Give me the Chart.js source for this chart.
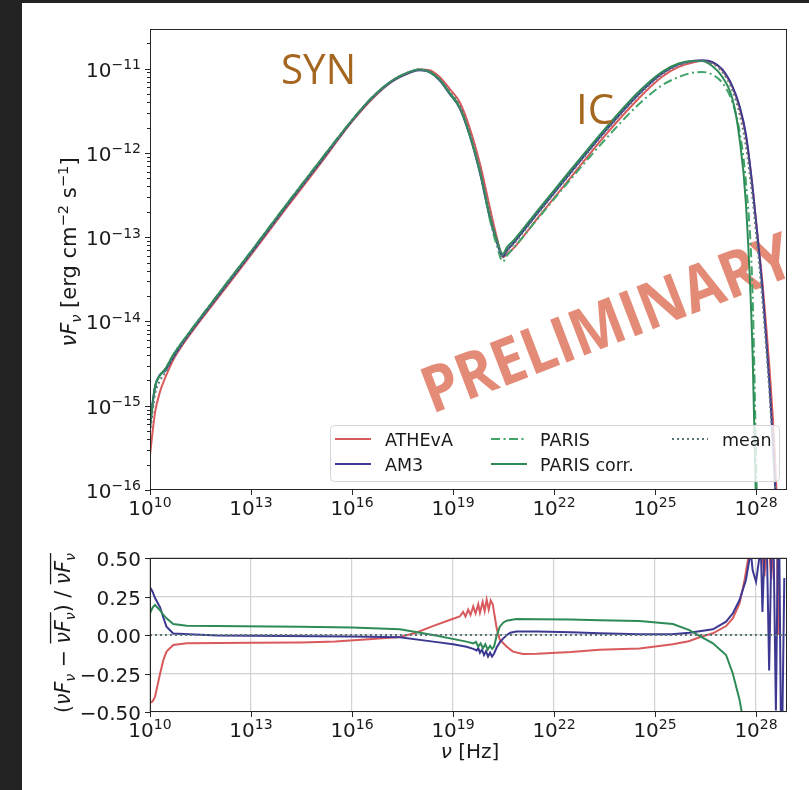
<!DOCTYPE html>
<html>
<head>
<meta charset="utf-8">
<script src="https://cdn.jsdelivr.net/npm/chart.js@4.4.1/dist/chart.umd.min.js"></script>
<style>
   html, body { margin: 0; padding: 0; background: #fff; }
   body { width: 809px; height: 790px; position: relative; overflow: hidden; }
   canvas { position: absolute; left: 0; }
   #sedChart { top: 0; }
   #resChart { top: 530px; }
   .edge { position: absolute; background: #232323; }
</style>
</head>
<body>
<canvas id="sedChart" width="809" height="530"></canvas>
<canvas id="resChart" width="809" height="260"></canvas>
<div class="edge" style="left:0;top:0;width:22px;height:790px"></div>
<div class="edge" style="left:0;top:0;width:809px;height:3px"></div>
<script>
// frequency grid of the SED curves, log10(nu / Hz)
const logNu = [10.0, 10.15, 10.3, 10.45, 10.7, 11.0, 12.0, 13.0, 14.0, 15.0, 16.0, 16.6, 17.2, 17.7, 18.0, 18.3, 18.6, 18.9, 19.2, 19.5, 19.8, 20.1, 20.3, 20.48, 20.6, 20.8, 21.5, 22.5, 23.5, 24.5, 25.2, 25.7, 26.1, 26.4, 26.7, 27.0, 27.3, 27.5, 27.7, 27.9, 28.0, 28.1, 28.2, 28.3, 28.4, 28.5, 28.58, 28.66];

// log10(nuFnu / erg cm^-2 s^-1) for each code
const sedAthevA = [-15.58, -15.08, -14.83, -14.67, -14.45, -14.26, -13.73, -13.21, -12.68, -12.16, -11.63, -11.36, -11.15, -11.05, -11.01, -11.02, -11.10, -11.24, -11.40, -11.71, -12.13, -12.66, -13.00, -13.24, -13.20, -13.13, -12.78, -12.29, -11.80, -11.36, -11.10, -10.98, -10.93, -10.91, -10.93, -11.02, -11.22, -11.45, -11.80, -12.42, -12.80, -13.18, -13.58, -14.05, -14.55, -15.15, -15.75, -16.6];
const sedAM3 = [-15.20, -14.77, -14.63, -14.585, -14.42, -14.24, -13.71, -13.19, -12.66, -12.14, -11.62, -11.35, -11.15, -11.05, -11.02, -11.04, -11.14, -11.30, -11.47, -11.80, -12.24, -12.78, -13.06, -13.23, -13.16, -13.07, -12.72, -12.23, -11.75, -11.31, -11.06, -10.95, -10.91, -10.90, -10.92, -11.01, -11.21, -11.43, -11.78, -12.42, -12.82, -13.22, -13.66, -14.20, -14.75, -15.42, -16.05, -16.8];
const sedParis = [-15.26, -14.78, -14.64, -14.565, -14.39, -14.22, -13.69, -13.17, -12.64, -12.12, -11.61, -11.34, -11.14, -11.04, -11.01, -11.04, -11.13, -11.29, -11.46, -11.79, -12.22, -12.80, -13.10, -13.29, -13.22, -13.13, -12.79, -12.31, -11.85, -11.43, -11.20, -11.10, -11.05, -11.04, -11.07, -11.17, -11.40, -11.72, -12.35, -13.70, -15.60, -17.5, null, null, null, null, null, null];
const sedParisCorr = [-15.26, -14.78, -14.64, -14.565, -14.39, -14.22, -13.69, -13.17, -12.64, -12.12, -11.61, -11.34, -11.14, -11.04, -11.01, -11.04, -11.13, -11.29, -11.46, -11.79, -12.22, -12.76, -13.03, -13.20, -13.12, -13.04, -12.69, -12.20, -11.72, -11.28, -11.04, -10.94, -10.91, -10.91, -10.97, -11.10, -11.36, -11.80, -12.60, -14.40, -16.20, null, null, null, null, null, null, null];
const sedMean = [-15.32, -14.86, -14.70, -14.61, -14.42, -14.24, -13.71, -13.19, -12.66, -12.14, -11.62, -11.35, -11.14, -11.04, -11.01, -11.03, -11.12, -11.27, -11.44, -11.76, -12.19, -12.72, -13.03, -13.22, -13.16, -13.08, -12.73, -12.24, -11.76, -11.32, -11.07, -10.96, -10.92, -10.91, -10.94, -11.04, -11.26, -11.52, -11.92, -12.55, -12.95, -13.35, -13.80, -14.30, -14.85, -15.50, -16.10, -16.9];

// relative deviation from the mean, each on its own log10(nu) grid
const resNuAthevA = [10.0, 10.08, 10.15, 10.3, 10.4, 10.49, 10.69, 11.09, 13.0, 14.5, 15.5, 16.5, 17.42, 17.9, 18.4, 18.9, 19.2, 19.3, 19.37, 19.45, 19.52, 19.6, 19.67, 19.75, 19.8, 19.88, 19.94, 20.0, 20.06, 20.12, 20.18, 20.24, 20.3, 20.39, 20.48, 20.59, 20.78, 21.08, 21.5, 22.5, 23.35, 24.54, 25.53, 26.0, 26.32, 26.72, 27.11, 27.31, 27.51, 27.66, 27.76, 27.85, 28.1, 28.25, 28.35, 28.45, 28.55, 28.62, 28.65, 28.67];
const resAthevA = [-0.44, -0.43, -0.40, -0.25, -0.16, -0.108, -0.065, -0.054, -0.05, -0.048, -0.042, -0.028, -0.013, 0.015, 0.058, 0.097, 0.12, 0.15, 0.12, 0.165, 0.13, 0.185, 0.14, 0.2, 0.145, 0.215, 0.155, 0.23, 0.165, 0.225, 0.2, 0.12, 0.04, -0.03, -0.05, -0.075, -0.108, -0.123, -0.122, -0.11, -0.095, -0.087, -0.06, -0.04, -0.015, 0.011, 0.058, 0.108, 0.205, 0.357, 0.487, 0.65, 0.7, 0.38, 0.7, 0.36, 0.7, 0.7, 0.0, 0.7];
const resNuAM3 = [10.0, 10.08, 10.15, 10.3, 10.4, 10.49, 10.69, 12.0, 14.0, 16.0, 17.42, 18.41, 19.0, 19.4, 19.6, 19.7, 19.75, 19.8, 19.86, 19.92, 19.98, 20.04, 20.1, 20.16, 20.22, 20.3, 20.4, 20.48, 20.6, 20.7, 20.88, 21.5, 22.5, 23.35, 24.54, 25.5, 26.02, 26.72, 27.11, 27.31, 27.51, 27.7, 27.8, 27.85, 27.9, 28.0, 28.09, 28.14, 28.19, 28.26, 28.32, 28.39, 28.46, 28.52, 28.59, 28.65, 28.69, 28.74, 28.78, 28.84];
const resAM3 = [0.31, 0.28, 0.24, 0.18, 0.11, 0.054, 0.01, -0.004, -0.006, -0.01, -0.015, -0.043, -0.06, -0.076, -0.09, -0.1, -0.085, -0.115, -0.095, -0.13, -0.105, -0.14, -0.115, -0.14, -0.12, -0.08, -0.045, -0.025, 0.0, 0.015, 0.022, 0.022, 0.018, 0.012, 0.005, 0.005, 0.015, 0.037, 0.087, 0.14, 0.227, 0.357, 0.487, 0.53, 0.42, 0.346, 0.49, 0.6, 0.15, 0.6, 0.6, -0.23, 0.6, 0.6, -0.49, 0.6, 0.6, -0.6, -0.6, 0.37];
const resNuParisCorr = [10.0, 10.08, 10.15, 10.3, 10.4, 10.49, 10.69, 11.09, 14.45, 16.0, 17.42, 18.41, 19.4, 19.6, 19.68, 19.75, 19.82, 19.89, 19.96, 20.03, 20.1, 20.16, 20.22, 20.29, 20.39, 20.49, 20.59, 20.88, 21.5, 22.5, 23.35, 24.54, 25.53, 26.02, 26.32, 26.72, 27.11, 27.31, 27.51, 27.6, 27.7];
const resParisCorr = [0.14, 0.18, 0.195, 0.16, 0.13, 0.108, 0.071, 0.06, 0.054, 0.048, 0.037, 0.0, -0.043, -0.055, -0.045, -0.075, -0.055, -0.085, -0.06, -0.095, -0.07, -0.09, -0.075, -0.01, 0.054, 0.08, 0.093, 0.104, 0.103, 0.1, 0.095, 0.091, 0.071, 0.032, -0.006, -0.054, -0.13, -0.25, -0.42, -0.53, -0.8];
const resNuMean = [10.0, 28.9];
const resMean = [0, 0];

// axis ticks
const nuTicks = [10, 13, 16, 19, 22, 25, 28];
const fluxTicks = [-16, -15, -14, -13, -12, -11];
const resTicks = [-0.5, -0.25, 0, 0.25, 0.5];
const resTickLabels = ['\u22120.50', '\u22120.25', '0.00', '0.25', '0.50'];

const NU_MIN = 1e10, NU_MAX = 10 ** 28.92;
const FONT = '"DejaVu Sans"';
const COLORS = {
   athevA: '#d95a5c',
   am3: '#3d3993',
   paris: '#41a468',
   parisCorr: '#2e8b57',
   mean: '#587878',
};

const toLogPoints = (xs, ys) => xs.map((x, i) => ({ x: 10 ** x, y: ys[i] === null ? null : 10 ** ys[i] }));
const toPoints = (xs, ys) => xs.map((x, i) => ({ x: 10 ** x, y: ys[i] }));

// text with sub/superscripts, drawn run by run
const runFont = (r, size) => `${r.it ? 'italic ' : ''}${(size * (r.s || 1)).toFixed(1)}px ${FONT}`;
const runsWidth = (ctx, runs, size) => {
   let w = 0;
   for (let r of runs) { ctx.font = runFont(r, size); w += ctx.measureText(r.t).width; }
   return w;
}
const drawRuns = (ctx, runs, x, y, size, align) => {
   const w = runsWidth(ctx, runs, size);
   let cx = align == 'center' ? x - w / 2 : align == 'right' ? x - w : x;
   ctx.textAlign = 'left';
   ctx.textBaseline = 'alphabetic';
   for (let r of runs) {
      ctx.font = runFont(r, size);
      const rw = ctx.measureText(r.t).width;
      ctx.fillText(r.t, cx, y + (r.dy || 0) * size);
      if (r.bar) ctx.fillRect(cx, y - size * 0.98, rw, 1.3);
      cx += rw;
   }
}
const powerRuns = (exp) => [{ t: '10' }, { t: String(exp).replace('-', '\u2212'), s: 0.7, dy: -0.38 }];

const nuFnu = (bar) => [{ t: '\u03bd', it: 1, bar }, { t: 'F', it: 1, bar }, { t: '\u03bd', it: 1, s: 0.7, dy: 0.22, bar }];

// frame, outward ticks, tick labels and axis titles in matplotlib style
const axisDecor = {
   id: 'axisDecor',
   afterDraw(chart, args, opts) {
      const { ctx, chartArea: a, scales: { x, y } } = chart;
      ctx.save();
      ctx.strokeStyle = '#262626';
      ctx.fillStyle = '#1a1a1a';
      ctx.lineWidth = 1;
      ctx.strokeRect(a.left + 0.5, a.top + 0.5, a.right - a.left - 1, a.bottom - a.top - 1);

      ctx.beginPath();
      for (let t of nuTicks) {
         const px = Math.round(x.getPixelForValue(10 ** t)) + 0.5;
         ctx.moveTo(px, a.bottom); ctx.lineTo(px, a.bottom + 5);
      }
      for (let v of opts.yTicks) {
         const py = Math.round(y.getPixelForValue(v)) + 0.5;
         ctx.moveTo(a.left - 5, py); ctx.lineTo(a.left, py);
      }
      for (let v of (opts.yMinor || [])) {
         const py = Math.round(y.getPixelForValue(v)) + 0.5;
         ctx.moveTo(a.left - 3, py); ctx.lineTo(a.left, py);
      }
      ctx.stroke();

      for (let t of nuTicks) {
         drawRuns(ctx, powerRuns(t), x.getPixelForValue(10 ** t), a.bottom + 25, 20, 'center');
      }
      opts.yTicks.forEach((v, i) => {
         drawRuns(ctx, opts.yLabel(v, i), a.left - 9, y.getPixelForValue(v) + 8, 20, 'right');
      });

      for (let title of opts.titles) {
         ctx.save();
         ctx.translate(title.x, title.y);
         if (title.vertical) ctx.rotate(-Math.PI / 2);
         drawRuns(ctx, title.runs, 0, 0, title.size, 'center');
         ctx.restore();
      }
      ctx.restore();
   }
};

// lettering inside the SED panel
const stretchText = (ctx, text, font, x, y, width, angle) => {
   ctx.font = font;
   const w = ctx.measureText(text).width;
   ctx.save();
   ctx.translate(x, y);
   if (angle) ctx.rotate(angle);
   ctx.scale(width / w, 1);
   ctx.textAlign = 'left';
   ctx.textBaseline = 'alphabetic';
   ctx.fillText(text, 0, 0);
   ctx.restore();
}

const sedLabels = {
   id: 'sedLabels',
   beforeDatasetsDraw(chart) {
      const ctx = chart.ctx;
      ctx.save();
      ctx.fillStyle = '#e48b78';
      stretchText(ctx, 'PRELIMINARY', 'bold 64px "Open Sans"', 432, 414, 392, -21 * Math.PI / 180);
      ctx.restore();
   },
   afterDatasetsDraw(chart) {
      const ctx = chart.ctx;
      ctx.save();
      ctx.fillStyle = '#a5671f';
      stretchText(ctx, 'SYN', '42px "Open Sans"', 281, 84, 75);
      stretchText(ctx, 'IC', '42px "Open Sans"', 576, 124, 38);
      ctx.restore();
   }
};

// three-column legend box in the lower right of the SED panel
const sedLegend = {
   id: 'sedLegend',
   afterDatasetsDraw(chart) {
      const ctx = chart.ctx;
      const ds = chart.data.datasets;
      const slots = [
         { i: 0, hx: 335, tx: 385, y: 439 },
         { i: 1, hx: 335, tx: 385, y: 464 },
         { i: 2, hx: 491, tx: 540, y: 439 },
         { i: 3, hx: 491, tx: 540, y: 464 },
         { i: 4, hx: 672, tx: 722, y: 439 },
      ];
      ctx.save();
      ctx.beginPath();
      ctx.roundRect(330.5, 425.5, 449, 56, 4);
      ctx.fillStyle = 'rgba(255,255,255,0.8)';
      ctx.fill();
      ctx.strokeStyle = '#d6d6d6';
      ctx.lineWidth = 1;
      ctx.stroke();
      for (let s of slots) {
         const d = ds[s.i];
         ctx.beginPath();
         ctx.setLineDash(d.borderDash || []);
         ctx.strokeStyle = d.borderColor;
         ctx.lineWidth = d.borderWidth;
         ctx.moveTo(s.hx, s.y); ctx.lineTo(s.hx + 36, s.y);
         ctx.stroke();
         ctx.setLineDash([]);
         ctx.fillStyle = '#1a1a1a';
         ctx.font = `17.5px ${FONT}`;
         ctx.textAlign = 'left';
         ctx.textBaseline = 'alphabetic';
         ctx.fillText(d.label, s.tx, s.y + 6.5);
      }
      ctx.restore();
   }
};

const nuAxis = (height, grid) => ({
   type: 'logarithmic',
   min: NU_MIN,
   max: NU_MAX,
   afterBuildTicks: (s) => { s.ticks = nuTicks.map(t => ({ value: 10 ** t })); },
   afterFit: (s) => { s.height = height; },
   ticks: { display: false },
   border: { display: false },
   grid: grid ? { display: true, drawTicks: false, color: '#d2d2d2', lineWidth: 1.2 } : { display: false },
});

const line = (label, data, color, order, extra) => Object.assign({
   label: label,
   data: data,
   borderColor: color,
   borderWidth: 2,
   pointRadius: 0,
   fill: false,
   order: order,
}, extra || {});

const fluxMinor = [];
for (let e = -17; e <= -11; ++e) {
   for (let k = 2; k <= 9; ++k) {
      const v = k * 10 ** e;
      if (v > 1e-16 && v < 10 ** -10.53) fluxMinor.push(v);
   }
}

const createSedChart = () => {
   const smooth = { cubicInterpolationMode: 'monotone' };
   const datasets = [
      line('ATHEvA', toLogPoints(logNu, sedAthevA), COLORS.athevA, 4, smooth),
      line('AM3', toLogPoints(logNu, sedAM3), COLORS.am3, 3, smooth),
      line('PARIS', toLogPoints(logNu, sedParis), COLORS.paris, 2, Object.assign({ borderDash: [9, 3.5, 2, 3.5] }, smooth)),
      line('PARIS corr.', toLogPoints(logNu, sedParisCorr), COLORS.parisCorr, 1, smooth),
      line('mean', toLogPoints(logNu, sedMean), COLORS.mean, 0, Object.assign({ borderDash: [2, 3] }, smooth)),
   ];
   return new Chart(document.getElementById('sedChart').getContext('2d'), {
      type: 'line',
      data: { datasets: datasets },
      plugins: [sedLabels, sedLegend, axisDecor],
      options: {
         responsive: false,
         animation: false,
         parsing: false,
         layout: { padding: { top: 29, right: 22, left: 0, bottom: 0 } },
         scales: {
            x: nuAxis(40, false),
            y: {
               type: 'logarithmic',
               min: 1e-16,
               max: 10 ** -10.53,
               afterBuildTicks: (s) => { s.ticks = fluxTicks.map(t => ({ value: 10 ** t })); },
               afterFit: (s) => { s.width = 150; },
               ticks: { display: false },
               border: { display: false },
               grid: { display: false },
            },
         },
         plugins: {
            legend: { display: false },
            tooltip: { enabled: false },
            axisDecor: {
               yTicks: fluxTicks.map(t => 10 ** t),
               yMinor: fluxMinor,
               yLabel: (v, i) => powerRuns(fluxTicks[i]),
               titles: [{
                  vertical: true, x: 76, y: 252, size: 21,
                  runs: nuFnu(false).concat([{ t: ' [erg cm' }, { t: '\u22122', s: 0.7, dy: -0.38 }, { t: ' s' }, { t: '\u22121', s: 0.7, dy: -0.38 }, { t: ']' }]),
               }],
            },
         },
      },
   });
}

const createResidualChart = () => {
   const datasets = [
      line('ATHEvA', toPoints(resNuAthevA, resAthevA), COLORS.athevA, 3),
      line('AM3', toPoints(resNuAM3, resAM3), COLORS.am3, 2),
      line('PARIS corr.', toPoints(resNuParisCorr, resParisCorr), COLORS.parisCorr, 1),
      line('mean', toPoints(resNuMean, resMean), COLORS.mean, 0, { borderDash: [2, 3] }),
   ];
   return new Chart(document.getElementById('resChart').getContext('2d'), {
      type: 'line',
      data: { datasets: datasets },
      plugins: [axisDecor],
      options: {
         responsive: false,
         animation: false,
         parsing: false,
         layout: { padding: { top: 28, right: 22, left: 0, bottom: 0 } },
         scales: {
            x: nuAxis(78, true),
            y: {
               type: 'linear',
               min: -0.5,
               max: 0.5,
               afterBuildTicks: (s) => { s.ticks = resTicks.map(v => ({ value: v })); },
               afterFit: (s) => { s.width = 150; },
               ticks: { display: false },
               border: { display: false },
               grid: { display: true, drawTicks: false, color: '#d2d2d2', lineWidth: 1.2 },
            },
         },
         plugins: {
            legend: { display: false },
            tooltip: { enabled: false },
            axisDecor: {
               yTicks: resTicks,
               yLabel: (v, i) => [{ t: resTickLabels[i] }],
               titles: [
                  {
                     vertical: true, x: 70, y: 103, size: 20.5,
                     runs: [{ t: '(' }].concat(nuFnu(false), [{ t: ' \u2212 ' }], nuFnu(true), [{ t: ') / ' }], nuFnu(true)),
                  },
                  {
                     vertical: false, x: 470, y: 228, size: 20,
                     runs: [{ t: '\u03bd', it: 1 }, { t: ' [Hz]' }],
                  },
               ],
            },
         },
      },
   });
}

createSedChart();
createResidualChart();
</script>
</body>
</html>
